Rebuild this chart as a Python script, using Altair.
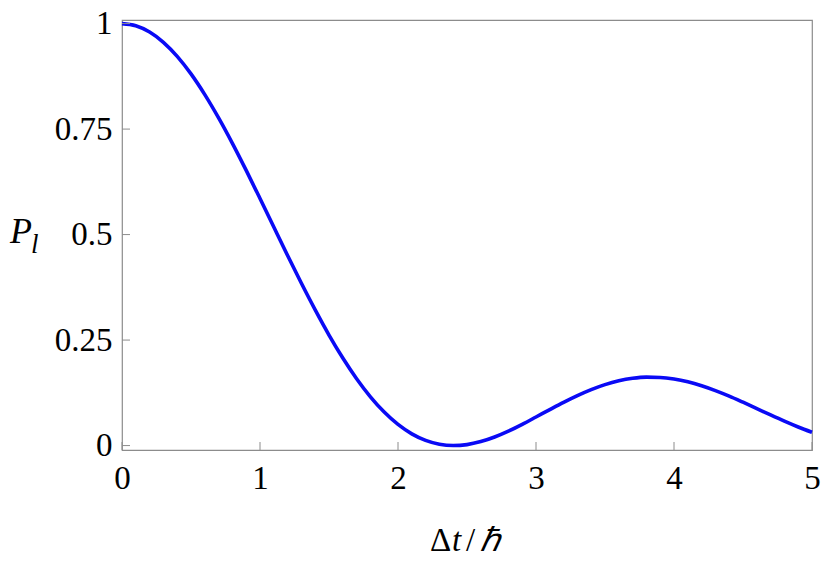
import altair as alt
import pandas as pd

# Curve values
x_vals = [0.0, 0.1, 0.2, 0.3, 0.4, 0.5, 0.6, 0.7, 0.8, 0.9,
          1.0, 1.1, 1.2, 1.3, 1.4, 1.5, 1.6, 1.7, 1.8, 1.9,
          2.0, 2.1, 2.2, 2.3, 2.4, 2.5, 2.6, 2.7, 2.8, 2.9,
          3.0, 3.1, 3.2, 3.3, 3.4, 3.5, 3.6, 3.7, 3.8, 3.9,
          4.0, 4.1, 4.2, 4.3, 4.4, 4.5, 4.6, 4.7, 4.8, 4.9, 5.0]
p_vals = [1.0000, 0.9950, 0.9801, 0.9557, 0.9224, 0.8808, 0.8317, 0.7765, 0.7162, 0.6521,
          0.5855, 0.5178, 0.4504, 0.3845, 0.3214, 0.2619, 0.2074, 0.1584, 0.1156, 0.0794,
          0.0501, 0.0278, 0.0122, 0.0031, 0.0000, 0.0023, 0.0094, 0.0203, 0.0342, 0.0503,
          0.0677, 0.0853, 0.1025, 0.1185, 0.1327, 0.1445, 0.1535, 0.1594, 0.1621, 0.1614,
          0.1577, 0.1511, 0.1418, 0.1303, 0.1172, 0.1027, 0.0877, 0.0725, 0.0578, 0.0440,
          0.0315]
x_ticks = [0, 1, 2, 3, 4, 5]
y_ticks = [0, 0.25, 0.5, 0.75, 1]

W, H = 690, 430
FONT = "Liberation Serif"
FS = 33
GRAY = "#8c8c8c"

df = pd.DataFrame({"x": x_vals, "p": p_vals})
xs = alt.Scale(domain=[0, 5], nice=False, zero=False)
ys = alt.Scale(domain=[-0.0105, 1.0085], nice=False, zero=False)

line = alt.Chart(df).mark_line(color="#0a0af5", strokeWidth=3.6, interpolate="monotone").encode(
    x=alt.X("x:Q", scale=xs,
            axis=alt.Axis(values=x_ticks, ticks=False, domain=False, grid=False,
                          labelFont=FONT, labelFontSize=FS, labelColor="black",
                          labelFlush=False, labelOverlap=False,
                          labelPadding=12, labelExpr="toString(datum.value)", title=None)),
    y=alt.Y("p:Q", scale=ys,
            axis=alt.Axis(values=y_ticks, ticks=False, domain=False, grid=False,
                          labelFont=FONT, labelFontSize=FS, labelColor="black",
                          labelFlush=False, labelOverlap=False,
                          labelPadding=10, labelExpr="toString(datum.value)", title=None)),
)

xt = alt.Chart(pd.DataFrame({"t": x_ticks})).mark_rule(color=GRAY, strokeWidth=1).encode(
    x=alt.X("t:Q", scale=xs), y=alt.value(H), y2=alt.value(H - 8))
yt = alt.Chart(pd.DataFrame({"t": y_ticks})).mark_rule(color=GRAY, strokeWidth=1).encode(
    y=alt.Y("t:Q", scale=ys), x=alt.value(0), x2=alt.value(8))

one = pd.DataFrame({"a": [0]})
def txt(s, x, y, italic=False, size=FS, align="left"):
    return alt.Chart(one).mark_text(text=s, font=FONT, fontSize=size,
                                    fontStyle="italic" if italic else "normal",
                                    align=align, baseline="alphabetic", color="black").encode(
        x=alt.value(x), y=alt.value(y))

# x title  "Δt/ℏ"
titles = [
    txt("Δ", 308, 531),
    txt("t", 330, 531, italic=True),
    txt("/", 344, 531),
    txt("ℏ", 358, 531, italic=True),
    txt("P", -112, 223, italic=True, size=36),
    txt("l", -91, 233, italic=True, size=27),
]

chart = alt.layer(line, xt, yt, *titles).properties(
    width=W, height=H,
    autosize=alt.AutoSizeParams(type="none"),
    padding={"left": 114, "top": 12, "right": 10, "bottom": 110},
).configure_view(stroke=GRAY, strokeWidth=1.2)

chart.save("out.html", embed_options={"renderer": "svg", "actions": False})
